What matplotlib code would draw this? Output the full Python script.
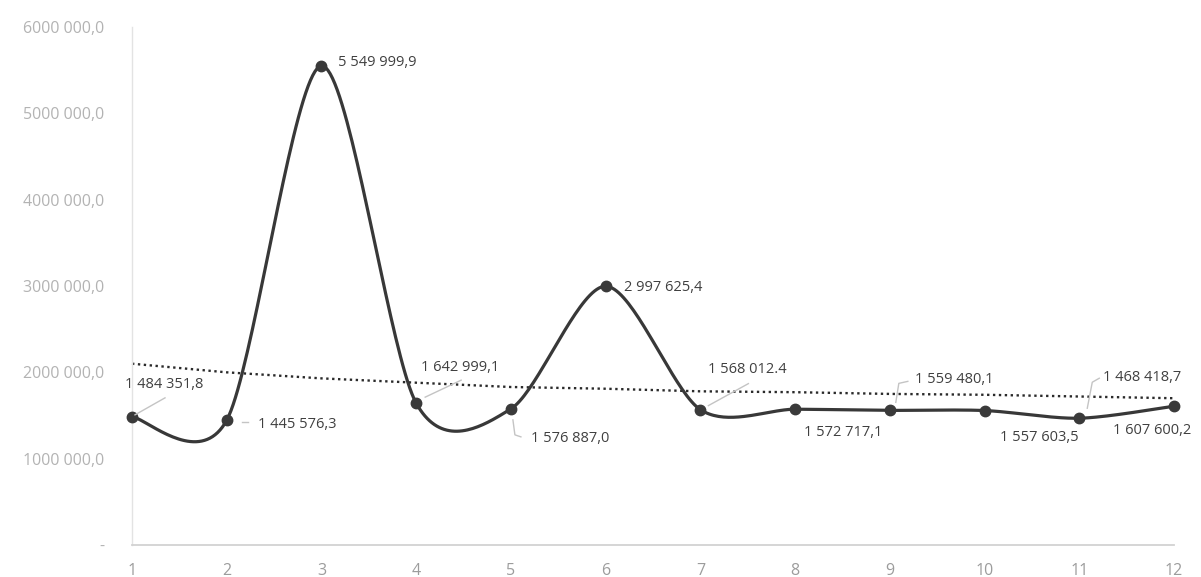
import numpy as np
import matplotlib
matplotlib.use("Agg")
import matplotlib.pyplot as plt
from matplotlib.transforms import IdentityTransform

# ---- data ----
months = [1, 2, 3, 4, 5, 6, 7, 8, 9, 10, 11, 12]
values = [1484351.8, 1445576.3, 5549999.9, 1642999.1, 1576887.0, 2997625.4,
          1568012.4, 1572717.1, 1559480.1, 1557603.5, 1468418.7, 1607600.2]
point_labels = ["1 484 351,8", "1 445 576,3", "5 549 999,9", "1 642 999,1",
                "1 576 887,0", "2 997 625,4", "1 568 012.4", "1 572 717,1",
                "1 559 480,1", "1 557 603,5", "1 468 418,7", "1 607 600,2"]
trend = [2100000, 2000000, 1930000, 1880000, 1830000, 1810000,
         1780000, 1770000, 1750000, 1740000, 1720000, 1700000]
y_ticks = [0, 1000000, 2000000, 3000000, 4000000, 5000000, 6000000]
y_tick_labels = ["-", "1000 000,0", "2000 000,0", "3000 000,0",
                 "4000 000,0", "5000 000,0", "6000 000,0"]

W, H = 1201, 577
fig = plt.figure(figsize=(W / 100, H / 100), dpi=100)
fig.patch.set_facecolor("white")
ax = fig.add_axes([132 / W, 32 / H, (1174 - 132) / W, 518 / H])
ax.set_xlim(1, 12)
ax.set_ylim(0, 6000000)
ax.set_facecolor("white")

# smoothed line (Bezier through the points, Excel-like smoothing)
def smooth(xs, ys, k=1 / 7.0, n=40):
    P = np.column_stack([xs, ys]).astype(float)
    out = []
    for i in range(len(P) - 1):
        p0 = P[i - 1] if i > 0 else P[i]
        p1 = P[i]
        p2 = P[i + 1]
        p3 = P[i + 2] if i + 2 < len(P) else P[i + 1]
        c1 = p1 + (p2 - p0) * k
        c2 = p2 - (p3 - p1) * k
        t = np.linspace(0, 1, n)[:, None]
        seg = ((1 - t) ** 3) * p1 + 3 * ((1 - t) ** 2) * t * c1 + 3 * (1 - t) * t ** 2 * c2 + t ** 3 * p2
        out.append(seg if i == 0 else seg[1:])
    s = np.vstack(out)
    return s[:, 0], s[:, 1]

sx, sy = smooth(months, values)
ax.plot(months, trend, color="#2a2a2a", lw=1.7, linestyle=(0, (1, 1.5)), zorder=2, clip_on=False)
ax.plot(sx, sy, color="#383838", lw=2.3, zorder=3, clip_on=False, solid_capstyle="round")
ax.plot(months, values, linestyle="none", marker="o", markersize=7.5,
        markerfacecolor="#3a3a3a", markeredgecolor="#3a3a3a", zorder=4, clip_on=False)

# spines & ticks
for s in ["top", "right"]:
    ax.spines[s].set_visible(False)
ax.spines["left"].set_color("#e3e3e3")
ax.spines["left"].set_linewidth(1.0)
ax.spines["bottom"].set_color("#d2d2d2")
ax.spines["bottom"].set_linewidth(1.3)
ax.set_xticks(months)
ax.set_xticklabels([str(m) for m in months])
ax.set_yticks(y_ticks)
ax.set_yticklabels(y_tick_labels)
ax.tick_params(axis="both", length=0)
ax.tick_params(axis="y", pad=20, labelsize=11.5, labelcolor="#b3b3b3")
ax.tick_params(axis="x", pad=13, labelsize=11.5, labelcolor="#9c9c9c")
for lab in ax.get_xticklabels() + ax.get_yticklabels():
    lab.set_fontfamily("Open Sans")

# data labels (pixel offsets from each point) and leader lines
label_offsets = [(-7, 32), (31, -4), (17, 3), (5, 36), (20, -30), (18, -1),
                 (8, 40), (9, -23), (25, 31), (15, -27), (24, 41), (-61, -24)]
leaders = [
    [(3, 2), (33, 19)],
    [(15, -2), (21, -2)],
    None,
    [(9, 6), (45, 23)],
    [(2, -11), (4, -26), (10, -28)],
    None,
    [(8, 4), (48, 26)],
    None,
    [(6, 8), (9, 27), (18, 29)],
    None,
    [(8, 10), (13, 36), (20, 40)],
    None,
]
fig.canvas.draw()
for i, (m, v) in enumerate(zip(months, values)):
    dx, dy = label_offsets[i]
    ax.annotate(point_labels[i], (m, v), xytext=(dx, dy), textcoords="offset pixels",
                ha="left", va="center", fontsize=10.5, color="#404040",
                family="Open Sans", zorder=5, annotation_clip=False)
    if leaders[i]:
        px, py = ax.transData.transform((m, v))
        xs = [px + a for a, b in leaders[i]]
        ys = [py + b for a, b in leaders[i]]
        fig.add_artist(plt.Line2D(xs, ys, transform=IdentityTransform(),
                                  color="#c4c4c4", lw=1.0))

fig.savefig("out.png", dpi=100, facecolor="white")
